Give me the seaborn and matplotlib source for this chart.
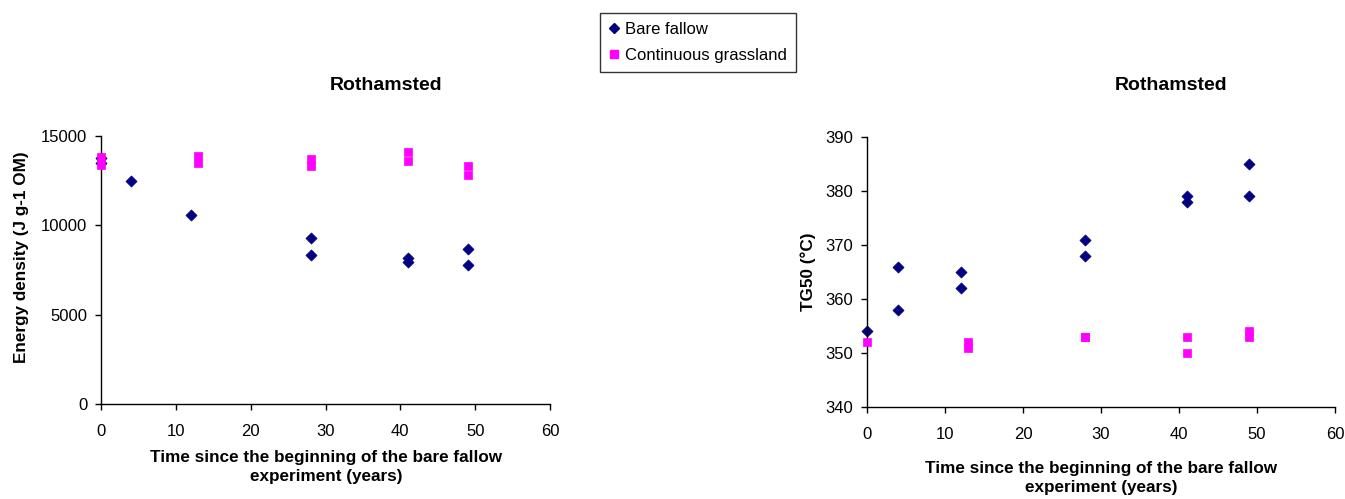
import matplotlib
matplotlib.use("Agg")
import matplotlib.pyplot as plt
import seaborn as sns
import pandas as pd
from matplotlib.lines import Line2D

sns.set_style("white")
plt.rcParams['font.family'] = ['Liberation Sans', 'DejaVu Sans']
plt.rcParams['text.color'] = 'black'
plt.rcParams['axes.labelcolor'] = 'black'
plt.rcParams['xtick.color'] = 'black'
plt.rcParams['ytick.color'] = 'black'

# --- data ---
fallow_years = [0, 0, 4, 12, 28, 28, 41, 41, 49, 49]
fallow_energy = [13770, 13490, 12500, 10580, 9310, 8340, 8170, 7950, 8690, 7800]
grass_years = [0, 0, 13, 13, 28, 28, 41, 41, 49, 49]
grass_energy = [13800, 13390, 13900, 13470, 13710, 13320, 14100, 13600, 13340, 12800]

fallow_years_tg = [0, 4, 4, 12, 12, 28, 28, 41, 41, 49, 49]
fallow_tg50 = [354, 366, 358, 365, 362, 371, 368, 379, 378, 385, 379]
grass_years_tg = [0, 13, 13, 28, 28, 41, 41, 49, 49]
grass_tg50 = [352, 352, 351, 353, 353, 353, 350, 354, 353]

series_names = ["Bare fallow", "Continuous grassland"]
colors = {"Bare fallow": "#000080", "Continuous grassland": "#FF00FF"}
markers = {"Bare fallow": "D", "Continuous grassland": "s"}
sizes = {"Bare fallow": 32, "Continuous grassland": 38}

df_e = pd.concat([
    pd.DataFrame({"years": fallow_years, "value": fallow_energy, "series": series_names[0]}),
    pd.DataFrame({"years": grass_years, "value": grass_energy, "series": series_names[1]}),
])
df_t = pd.concat([
    pd.DataFrame({"years": fallow_years_tg, "value": fallow_tg50, "series": series_names[0]}),
    pd.DataFrame({"years": grass_years_tg, "value": grass_tg50, "series": series_names[1]}),
])

W, H = 1345, 499
fig = plt.figure(figsize=(W / 100, H / 100), dpi=100)

def rect(x0, y0, x1, y1):
    return [x0 / W, 1 - y1 / H, (x1 - x0) / W, (y1 - y0) / H]

ax1 = fig.add_axes(rect(101, 136, 550, 404))
ax2 = fig.add_axes(rect(867, 137, 1335, 407))

for ax, df in ((ax1, df_e), (ax2, df_t)):
    for name in series_names:
        sub = df[df["series"] == name]
        sns.scatterplot(data=sub, x="years", y="value", ax=ax, color=colors[name],
                        marker=markers[name], s=sizes[name],
                        edgecolor=colors[name], linewidth=0.5, legend=False,
                        zorder=3 if name == "Continuous grassland" else 2)

TICK_FS = 12
LABEL_FS = 12.3
for ax in (ax1, ax2):
    ax.set_xlim(0, 60)
    ax.set_xticks(range(0, 61, 10))
    for s in ("top", "right"):
        ax.spines[s].set_visible(False)
    for s in ("left", "bottom"):
        ax.spines[s].set_color("black")
        ax.spines[s].set_linewidth(1.0)
    ax.tick_params(axis="both", direction="out", length=4.3, width=1, colors="black",
                   labelsize=TICK_FS, bottom=True, left=True)
    ax.tick_params(axis="x", pad=10)
    ax.tick_params(axis="y", pad=5.5)
    ax.set_xlabel("")
    ax.set_ylabel("")
    ax.grid(False)
    for sp in ax.spines.values():
        sp.set_clip_on(False)
    for c in ax.collections:
        c.set_clip_on(False)

ax1.set_ylim(0, 15000)
ax1.set_yticks([0, 5000, 10000, 15000])
ax2.set_ylim(340, 390)
ax2.set_yticks(range(340, 391, 10))

# titles and axis labels
fig.text(386 / W, 1 - 86 / H, "Rothamsted", ha="center", va="center", fontsize=14, fontweight="bold")
fig.text(1171 / W, 1 - 86 / H, "Rothamsted", ha="center", va="center", fontsize=14, fontweight="bold")

fig.text(22 / W, 1 - 257 / H, "Energy density (J g-1 OM)", ha="center", va="center",
         rotation=90, fontsize=LABEL_FS, fontweight="bold")
fig.text(808 / W, 1 - 272 / H, "TG50 (°C)", ha="center", va="center",
         rotation=90, fontsize=LABEL_FS, fontweight="bold")

fig.text(326 / W, 1 - 467 / H, "Time since the beginning of the bare fallow\nexperiment (years)",
         ha="center", va="center", fontsize=LABEL_FS, fontweight="bold", linespacing=1.35)
fig.text(1101 / W, 1 - 478 / H, "Time since the beginning of the bare fallow\nexperiment (years)",
         ha="center", va="center", fontsize=LABEL_FS, fontweight="bold", linespacing=1.35)

# legend
handles = [Line2D([0], [0], marker=markers[n], color="none", markerfacecolor=colors[n],
                  markeredgecolor=colors[n], markersize=5 if n == "Bare fallow" else 6, label=n)
           for n in series_names]
leg = fig.legend(handles=handles, loc="upper left", bbox_to_anchor=(600 / W, 1 - 13 / H),
                 frameon=True, fontsize=12, handlelength=0.55, handletextpad=0.4,
                 borderpad=0.55, labelspacing=0.65, borderaxespad=0, fancybox=False)
leg.get_frame().set_edgecolor("black")
leg.get_frame().set_linewidth(1.0)

fig.savefig("out.png", dpi=100, facecolor="white")
